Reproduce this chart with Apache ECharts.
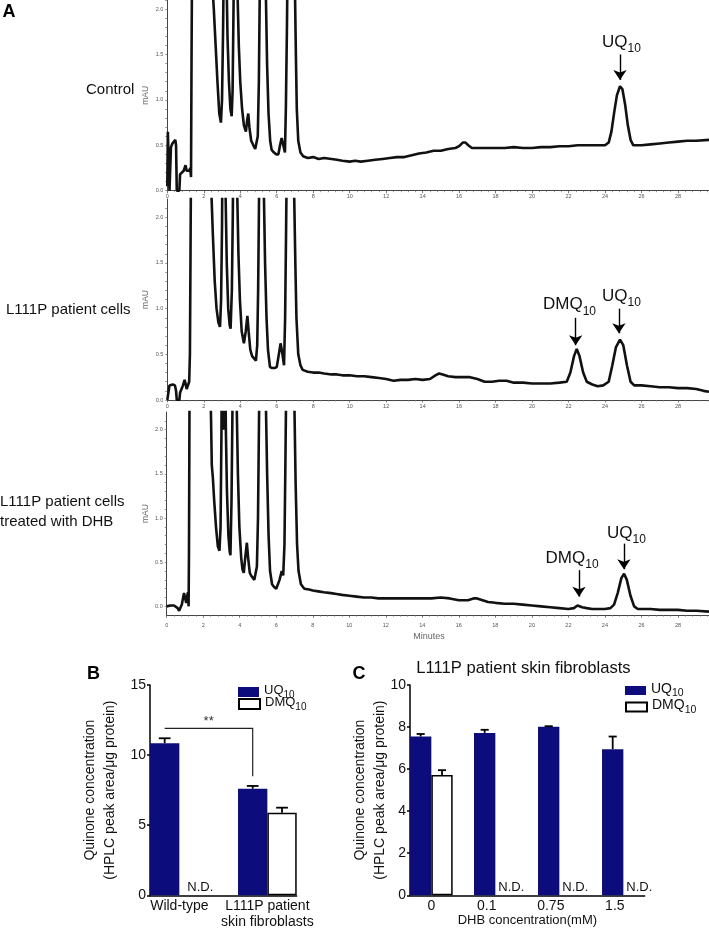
<!DOCTYPE html>
<html>
<head>
<meta charset="utf-8">
<script src="https://cdn.jsdelivr.net/npm/echarts@6.0.0/dist/echarts.min.js"></script>
<style>
html,body{margin:0;padding:0;background:#fff;}
#chart{width:709px;height:930px;}
</style>
</head>
<body>
<div id="chart"></div>
<script>
// ---------------- Panel A: HPLC chromatograms (minutes, mAU) ----------------
const traceControl = [
[0,0.05],[0.03,0.65],[0.08,0.3],[0.12,0.0],[0.16,0.0],[0.2,0.48],[0.28,0.52],[0.36,0.54],[0.44,0.56],[0.48,0.5],[0.52,0.0],[0.6,0.0],[0.66,0.0],[0.7,0.18],[0.8,0.2],[0.9,0.22],[1.0,0.28],[1.06,0.22],[1.12,0.24],[1.2,0.22],[1.26,0.25],[1.3,0.15],[1.33,1.5],[1.36,2.6],[1.42,3],
[2.4,3],[2.49,2.2],[2.55,2.0],[2.65,1.6],[2.75,1.2],[2.85,0.85],[2.94,0.75],[3.0,1.0],[3.06,1.8],[3.1,2.6],[3.15,3],[3.22,3],[3.26,2.2],[3.3,1.7],[3.38,1.2],[3.46,0.9],[3.53,0.82],[3.58,1.1],[3.63,2.0],[3.67,2.8],[3.75,3],[3.82,2.6],[3.86,2.1],[3.92,1.6],[4.0,1.2],[4.1,0.9],[4.2,0.72],[4.31,0.65],[4.38,0.78],[4.44,0.85],[4.5,0.7],[4.6,0.55],[4.72,0.5],[4.82,0.46],[4.9,0.45],[4.96,0.6],[5.02,1.2],[5.06,2.0],[5.1,2.8],[5.3,3],[5.38,2.6],[5.41,2.1],[5.47,1.4],[5.55,0.85],[5.64,0.55],[5.72,0.45],[5.85,0.42],[5.98,0.4],[6.09,0.4],[6.18,0.5],[6.27,0.58],[6.36,0.5],[6.45,0.42],[6.5,0.9],[6.56,1.8],[6.6,2.6],[6.7,3],[6.95,3],[7.0,2.2],[7.05,1.5],[7.1,0.9],[7.18,0.55],[7.3,0.42],[7.45,0.38],[7.7,0.36],[8.0,0.37],[8.3,0.35],[8.6,0.36],[9.0,0.35],[9.3,0.34],[9.6,0.33],[10.0,0.32],[10.3,0.33],[10.6,0.32],[11.0,0.33],[11.4,0.34],[11.8,0.35],[12.2,0.36],[12.6,0.37],[13.0,0.37],[13.4,0.39],[13.8,0.41],[14.2,0.42],[14.6,0.44],[15.0,0.44],[15.4,0.46],[15.8,0.47],[16.0,0.49],[16.2,0.53],[16.35,0.53],[16.5,0.5],[16.7,0.47],[17.0,0.47],[17.5,0.47],[18.0,0.47],[18.5,0.47],[19.0,0.48],[19.5,0.47],[20.0,0.47],[20.5,0.48],[21.0,0.48],[21.5,0.49],[22.0,0.49],[22.5,0.5],[23.0,0.5],[23.5,0.5],[24.0,0.5],[24.2,0.53],[24.35,0.65],[24.5,0.86],[24.65,1.05],[24.82,1.15],[24.95,1.12],[25.1,0.95],[25.25,0.72],[25.4,0.56],[25.55,0.5],[25.8,0.5],[26.0,0.5],[26.5,0.51],[27.0,0.52],[27.5,0.53],[28.0,0.54],[28.5,0.55],[29.0,0.55],[29.7,0.56]
];
const traceL111P = [
[0,0.0],[0.08,0.02],[0.12,0.16],[0.2,0.17],[0.3,0.17],[0.42,0.16],[0.48,0.1],[0.52,0.0],[0.6,0.0],[0.66,0.0],[0.7,0.08],[0.78,0.12],[0.86,0.16],[0.95,0.22],[1.0,0.18],[1.06,0.12],[1.14,0.12],[1.2,0.2],[1.24,0.5],[1.27,1.5],[1.3,2.6],[1.35,3],
[2.35,3],[2.43,2.2],[2.5,1.8],[2.6,1.3],[2.7,1.0],[2.8,0.85],[2.89,0.8],[2.95,1.1],[3.0,1.9],[3.02,2.6],[3.08,3],[3.16,3],[3.2,2.2],[3.26,1.5],[3.34,1.0],[3.42,0.82],[3.47,0.78],[3.54,1.2],[3.59,2.0],[3.62,2.7],[3.7,3],[3.8,3],[3.84,2.2],[3.9,1.6],[3.98,1.1],[4.08,0.75],[4.2,0.62],[4.3,0.75],[4.39,0.92],[4.46,0.75],[4.55,0.55],[4.65,0.48],[4.75,0.46],[4.86,0.43],[4.93,0.6],[4.98,1.2],[5.02,2.0],[5.05,2.7],[5.12,3],[5.25,3],[5.3,2.2],[5.36,1.5],[5.44,0.9],[5.52,0.55],[5.63,0.36],[5.75,0.35],[5.88,0.35],[6.0,0.36],[6.1,0.48],[6.21,0.62],[6.3,0.52],[6.4,0.38],[6.46,0.9],[6.51,1.8],[6.55,2.6],[6.62,3],[6.9,3],[6.96,2.2],[7.02,1.5],[7.08,0.9],[7.18,0.5],[7.3,0.38],[7.42,0.33],[7.7,0.31],[8.0,0.3],[8.3,0.3],[8.6,0.29],[9.0,0.28],[9.3,0.28],[9.6,0.27],[10.0,0.27],[10.4,0.26],[10.8,0.26],[11.2,0.25],[11.6,0.24],[12.0,0.23],[12.4,0.21],[12.8,0.22],[13.2,0.22],[13.6,0.23],[14.0,0.22],[14.4,0.23],[14.7,0.27],[14.9,0.29],[15.1,0.28],[15.4,0.26],[15.8,0.25],[16.2,0.25],[16.6,0.25],[17.0,0.23],[17.4,0.2],[17.8,0.2],[18.2,0.21],[18.6,0.21],[19.0,0.19],[19.5,0.19],[20.0,0.18],[20.5,0.18],[21.0,0.18],[21.5,0.19],[21.9,0.2],[22.1,0.3],[22.3,0.48],[22.45,0.56],[22.6,0.48],[22.8,0.3],[23.0,0.2],[23.3,0.17],[23.6,0.15],[23.9,0.16],[24.2,0.2],[24.4,0.38],[24.6,0.58],[24.82,0.66],[25.0,0.6],[25.2,0.38],[25.4,0.2],[25.6,0.16],[26.0,0.16],[26.5,0.15],[27.0,0.14],[27.5,0.14],[28.0,0.13],[28.5,0.13],[29.0,0.12],[29.4,0.1],[29.7,0.09]
];
const traceDHB = [
[0,0.0],[0.1,0.02],[0.2,0.01],[0.3,0.02],[0.4,0.01],[0.5,0.0],[0.6,-0.02],[0.68,-0.05],[0.73,-0.06],[0.78,-0.03],[0.83,0.02],[0.9,0.1],[0.95,0.15],[1.0,0.1],[1.07,0.04],[1.12,0.12],[1.17,0.16],[1.2,0.0],[1.22,0.6],[1.24,1.8],[1.26,3],
[2.35,3],[2.43,2.1],[2.47,1.6],[2.53,1.45],[2.6,1.2],[2.7,0.9],[2.8,0.68],[2.89,0.63],[2.95,0.9],[3.0,2.0],[3.02,3],[3.1,3],[3.13,2.0],[3.17,2.8],[3.2,3],[3.24,2.0],[3.3,1.3],[3.38,0.8],[3.45,0.62],[3.49,0.58],[3.55,1.2],[3.6,2.2],[3.63,3],[3.8,3],[3.84,2.2],[3.9,1.5],[3.98,0.9],[4.08,0.55],[4.15,0.42],[4.22,0.38],[4.3,0.55],[4.39,0.72],[4.46,0.55],[4.55,0.38],[4.62,0.35],[4.72,0.33],[4.8,0.3],[4.86,0.29],[4.94,0.45],[5.0,1.0],[5.04,1.8],[5.08,2.6],[5.12,3],[5.38,3],[5.44,2.2],[5.5,1.5],[5.58,0.8],[5.66,0.4],[5.77,0.25],[5.88,0.22],[6.0,0.2],[6.08,0.19],[6.18,0.3],[6.3,0.4],[6.38,0.35],[6.45,0.7],[6.5,1.6],[6.55,2.6],[6.6,3],[6.95,3],[7.0,2.2],[7.06,1.4],[7.14,0.7],[7.22,0.4],[7.35,0.25],[7.54,0.2],[7.8,0.19],[8.0,0.18],[8.3,0.17],[8.6,0.16],[9.0,0.15],[9.3,0.14],[9.6,0.13],[10.0,0.12],[10.4,0.11],[10.8,0.1],[11.2,0.1],[11.6,0.09],[12.0,0.09],[12.5,0.09],[13.0,0.09],[13.5,0.09],[14.0,0.09],[14.5,0.09],[15.0,0.1],[15.5,0.09],[16.0,0.07],[16.5,0.07],[16.8,0.09],[17.0,0.09],[17.3,0.07],[17.6,0.05],[18.0,0.04],[18.5,0.03],[19.0,0.03],[19.5,0.02],[20.0,0.01],[20.5,0.0],[21.0,-0.01],[21.5,-0.02],[22.0,-0.03],[22.3,-0.02],[22.5,0.01],[22.6,0.02],[22.75,-0.01],[23.0,-0.02],[23.3,-0.03],[23.6,-0.03],[24.0,-0.03],[24.3,-0.02],[24.5,0.02],[24.7,0.15],[24.9,0.32],[25.05,0.37],[25.2,0.3],[25.4,0.12],[25.6,0.0],[25.8,-0.03],[26.0,-0.03],[26.5,-0.03],[27.0,-0.04],[27.5,-0.04],[28.0,-0.04],[28.5,-0.05],[29.0,-0.05],[29.7,-0.06]
];
const chromNames = ['Control', 'L111P patient cells', 'L111P patient cells\ntreated with DHB'];
const chromYTickLabels = [0, 0.5, 1.0, 1.5, 2.0];
// peak annotations: arrow from/to (mAU) and label centre, in data units
const peaksControl = [{name:'UQ10', t:24.82, from:1.50, to:1.22, labelT:24.9, labelV:1.61}];
const peaksL111P = [{name:'DMQ10', t:22.39, from:0.90, to:0.60, labelT:22.05, labelV:1.02},
                    {name:'UQ10',  t:24.76, from:1.00, to:0.73, labelT:24.9,  labelV:1.11}];
const peaksDHB = [{name:'DMQ10', t:22.58, from:0.41, to:0.11, labelT:22.2,  labelV:0.52},
                  {name:'UQ10',  t:25.04, from:0.71, to:0.42, labelT:25.18, labelV:0.80}];

// ---------------- Panel B ----------------
const bCategories = ['Wild-type', 'L111P patient\nskin fibroblasts'];
const bUQ10 = [10.85, 7.6];
const bUQ10Err = [0.35, 0.2];
const bDMQ10 = [null, 5.89];
const bDMQ10Err = [null, 0.36];
const bSignificance = [{from:0, to:1, text:'**', level:11.9, drop:8.5}];

// ---------------- Panel C ----------------
const cTitle = 'L111P patient skin fibroblasts';
const cCategories = ['0', '0.1', '0.75', '1.5'];
const cUQ10 = [7.55, 7.72, 8.01, 6.95];
const cUQ10Err = [0.12, 0.15, 0.03, 0.6];
const cDMQ10 = [5.72, null, null, null];
const cDMQ10Err = [0.23, null, null, null];
const cXName = 'DHB concentration(mM)';

// ---------------- helpers ----------------
const FONT = "'Liberation Sans', Arial, Helvetica, sans-serif";
const NAVY = '#0c0c7c';
function subFmt(name) { const m = String(name).match(/^(.*?)(\d+)$/); return m ? '{a|' + m[1] + '}{s|' + m[2] + '}' : name; }
function subRich(fs, sfs, pad) {
  return { a: {fontSize: fs, fontFamily: FONT, color: '#111', verticalAlign: 'bottom', padding: [0, 0, pad, 0]},
           s: {fontSize: sfs, fontFamily: FONT, color: '#111', verticalAlign: 'bottom'} };
}

const chromPanels = [
  {trace: traceControl, peaks: peaksControl, grid: {left: 167.3, top: 0, width: 541.7, height: 190.7}, ymin: 0, ymax: 2.1, xMargin: 3},
  {trace: traceL111P, peaks: peaksL111P, grid: {left: 167.3, top: 199, width: 541.7, height: 201}, ymin: 0, ymax: 2.2, xMargin: 3},
  {trace: traceDHB, peaks: peaksDHB, grid: {left: 166.7, top: 412, width: 542.3, height: 203.2}, ymin: -0.1, ymax: 2.2, xMargin: 7}
];

const grids = [], xAxes = [], yAxes = [], series = [];
chromPanels.forEach((p, i) => {
  grids.push(Object.assign({containLabel: false, outerBoundsMode: 'none'}, p.grid));
  xAxes.push({
    type: 'value', gridIndex: i, min: 0, max: 29.7, interval: 2,
    axisLine: {show: true, onZero: false, lineStyle: {color: '#444', width: 1}},
    axisTick: {show: true, length: 2.5, lineStyle: {color: '#555', width: 0.8}},
    minorTick: {show: true, splitNumber: 5, length: 1.5, lineStyle: {color: '#777', width: 0.7}},
    axisLabel: {fontSize: 5.5, color: '#555', margin: p.xMargin, showMaxLabel: false, showMinLabel: true},
    splitLine: {show: false}
  });
  const minorTicks = [];
  for (let k = 0; k <= 21; k++) { const v = k / 10; if (v <= p.ymax) minorTicks.push(v); }
  yAxes.push({
    type: 'value', gridIndex: i, min: p.ymin, max: p.ymax,
    name: 'mAU', nameLocation: 'middle', nameGap: 17, nameMoveOverlap: false,
    nameTextStyle: {fontSize: 8.5, color: '#666', fontFamily: FONT},
    axisLine: {show: true, onZero: false, lineStyle: {color: '#444', width: 1}},
    axisTick: {show: true, length: 2, customValues: minorTicks, lineStyle: {color: '#666', width: 0.7}},
    axisLabel: {fontSize: 5.5, color: '#555', margin: 4, customValues: chromYTickLabels, formatter: v => Number(v).toFixed(1)},
    splitLine: {show: false}
  });
  series.push({
    type: 'line', xAxisIndex: i, yAxisIndex: i, data: p.trace,
    showSymbol: false, symbol: 'none', silent: true, clip: true,
    lineStyle: {color: '#111', width: 2.6},
    markLine: {
      silent: true, symbol: ['none', 'arrow'], symbolSize: 10,
      lineStyle: {color: '#000', width: 1.4, type: 'solid'},
      itemStyle: {color: '#000'},
      label: {show: false}, emphasis: {disabled: true},
      data: p.peaks.map(k => [{coord: [k.t, k.from]}, {coord: [k.t, k.to]}])
    },
    markPoint: {
      silent: true, symbol: 'rect', symbolSize: 1, itemStyle: {color: 'rgba(0,0,0,0)'},
      label: {show: true, position: 'inside', formatter: q => subFmt(q.name), rich: subRich(17, 12, 4)},
      data: p.peaks.map(k => ({name: k.name, coord: [k.labelT, k.labelV]}))
    }
  });
});

// ----- bar panels -----
function barPanel(gi, gridDef, cats, uq, uqErr, dmq, dmqErr, labelCentreFn, ndOffset, capFrac) {
  const n = cats.length;
  const units = 3 * n - 1;
  const unitPx = gridDef.width / units;
  grids.push(Object.assign({containLabel: false, outerBoundsMode: 'none'}, gridDef));
  const uqPos = i => 3 * i + 0.5, dmqPos = i => 3 * i + 1.5;
  const labelPos = cats.map((c, i) => labelCentreFn(i));
  xAxes.push({
    type: 'value', gridIndex: gi, min: 0, max: units,
    axisLine: {show: true, onZero: false, lineStyle: {color: '#000', width: 1.5}},
    axisTick: {show: false}, splitLine: {show: false},
    axisLabel: {customValues: labelPos, fontSize: 14, color: '#111', margin: 3, lineHeight: 16, fontFamily: FONT,
      formatter: v => { const k = labelPos.findIndex(x => Math.abs(x - v) < 1e-6); return k >= 0 ? cats[k] : ''; }}
  });
  series.push({
    name: 'UQ10', type: 'bar', xAxisIndex: gi, yAxisIndex: gi, barWidth: unitPx, barGap: '-100%',
    itemStyle: {color: NAVY}, silent: true,
    data: uq.map((v, i) => [uqPos(i), v])
  });
  series.push({
    name: 'DMQ10', type: 'bar', xAxisIndex: gi, yAxisIndex: gi, barWidth: unitPx, barGap: '-100%',
    itemStyle: {color: '#ffffff', borderColor: '#000', borderWidth: 1.5}, silent: true,
    data: dmq.map((v, i) => [dmqPos(i), v])
  });
  const errData = [];
  uq.forEach((v, i) => { if (v != null) errData.push([uqPos(i), v, uqErr[i]]); });
  dmq.forEach((v, i) => { if (v != null) errData.push([dmqPos(i), v, dmqErr[i]]); });
  const capHalf = unitPx * capFrac;
  series.push({
    type: 'custom', xAxisIndex: gi, yAxisIndex: gi, silent: true, data: errData, z: 3,
    renderItem: (params, api) => {
      const x = api.value(0), v = api.value(1), e = api.value(2);
      const p0 = api.coord([x, v]), p1 = api.coord([x, v + e]);
      const st = {stroke: '#000', lineWidth: 1.8};
      return {type: 'group', children: [
        {type: 'line', shape: {x1: p0[0], y1: p0[1], x2: p1[0], y2: p1[1]}, style: st},
        {type: 'line', shape: {x1: p1[0] - capHalf, y1: p1[1], x2: p1[0] + capHalf, y2: p1[1]}, style: st}
      ]};
    }
  });
  const ndData = [];
  dmq.forEach((v, i) => { if (v == null) ndData.push([3 * i + 1, 0]); });
  series.push({
    type: 'custom', xAxisIndex: gi, yAxisIndex: gi, silent: true, data: ndData, z: 3,
    renderItem: (params, api) => {
      const p = api.coord([api.value(0), api.value(1)]);
      return {type: 'text', x: p[0] + ndOffset, y: p[1] - 1.5,
        style: {text: 'N.D.', font: '13px ' + FONT, fill: '#111', align: 'left', verticalAlign: 'bottom'}};
    }
  });
  return {uqPos, dmqPos, unitPx};
}

const bInfo = barPanel(3, {left: 150, top: 685, width: 146.7, height: 210.3}, bCategories, bUQ10, bUQ10Err, bDMQ10, bDMQ10Err,
  i => 3 * i + 1, 8, 0.2);
yAxes.push({
  type: 'value', gridIndex: 3, min: 0, max: 15, interval: 5,
  name: 'Quinone concentration\n(HPLC peak area/\u03bcg protein)', nameLocation: 'middle', nameGap: 30, nameMoveOverlap: false,
  nameTextStyle: {fontSize: 14, color: '#111', lineHeight: 20, fontFamily: FONT},
  axisLine: {show: true, lineStyle: {color: '#000', width: 1.5}},
  axisTick: {show: true, length: 3, lineStyle: {color: '#000', width: 1.5}},
  axisLabel: {fontSize: 14, color: '#111', margin: 4, fontFamily: FONT},
  splitLine: {show: false}
});
series.push({
  type: 'custom', xAxisIndex: 3, yAxisIndex: 3, silent: true, z: 3,
  data: bSignificance.map((s, k) => [k]),
  renderItem: (params, api) => {
    const s = bSignificance[params.dataIndex];
    const a = api.coord([bInfo.uqPos(s.from), s.level]);
    const b = api.coord([bInfo.uqPos(s.to), s.level]);
    const d = api.coord([bInfo.uqPos(s.to), s.drop]);
    const st = {stroke: '#222', lineWidth: 1.2, fill: null};
    return {type: 'group', children: [
      {type: 'polyline', shape: {points: [a, b, d]}, style: st},
      {type: 'text', x: (a[0] + b[0]) / 2, y: a[1] - 1, style: {text: s.text, font: '13px ' + FONT, fill: '#333', align: 'center', verticalAlign: 'bottom'}}
    ]};
  }
});

const cInfo = barPanel(4, {left: 410, top: 685, width: 234.7, height: 210.3}, cCategories, cUQ10, cUQ10Err, cDMQ10, cDMQ10Err,
  i => (cDMQ10[i] != null ? 3 * i + 1 : 3 * i + 0.6), 3, 0.19);
xAxes[4].name = cXName; xAxes[4].nameLocation = 'middle'; xAxes[4].nameGap = 19;
xAxes[4].nameTextStyle = {fontSize: 13, color: '#111', fontFamily: FONT};
xAxes[4].nameMoveOverlap = false;
yAxes.push({
  type: 'value', gridIndex: 4, min: 0, max: 10, interval: 2,
  name: 'Quinone concentration\n(HPLC peak area/\u03bcg protein)', nameLocation: 'middle', nameGap: 20, nameMoveOverlap: false,
  nameTextStyle: {fontSize: 14, color: '#111', lineHeight: 20, fontFamily: FONT},
  axisLine: {show: true, lineStyle: {color: '#000', width: 1.5}},
  axisTick: {show: true, length: 3, lineStyle: {color: '#000', width: 1.5}},
  axisLabel: {fontSize: 14, color: '#111', margin: 4, fontFamily: FONT},
  splitLine: {show: false}
});

function legendItem(name, left, top, iw, ih, fs, sfs) {
  return {
    data: [{name: name, icon: 'rect'}], left: left, top: top, orient: 'vertical', padding: 0,
    itemWidth: iw, itemHeight: ih, selectedMode: false,
    formatter: subFmt,
    textStyle: {fontSize: fs, color: '#111', fontFamily: FONT, rich: subRich(fs, sfs, 3)}
  };
}

const graphics = [
  {type: 'text', x: 9, y: 12.5, style: {text: 'A', font: 'bold 18px ' + FONT, fill: '#000', align: 'center', verticalAlign: 'middle'}},
  {type: 'text', x: 93.5, y: 674, style: {text: 'B', font: 'bold 18px ' + FONT, fill: '#000', align: 'center', verticalAlign: 'middle'}},
  {type: 'text', x: 359, y: 674, style: {text: 'C', font: 'bold 18px ' + FONT, fill: '#000', align: 'center', verticalAlign: 'middle'}},
  {type: 'text', x: 86, y: 90, style: {text: chromNames[0], font: '15px ' + FONT, fill: '#111', align: 'left', verticalAlign: 'middle'}},
  {type: 'text', x: 6, y: 310, style: {text: chromNames[1], font: '15px ' + FONT, fill: '#111', align: 'left', verticalAlign: 'middle'}},
  {type: 'text', x: 0, y: 512, style: {text: chromNames[2], font: '15px ' + FONT, lineHeight: 20, fill: '#111', align: 'left', verticalAlign: 'middle'}},
  {type: 'text', x: 429, y: 637, style: {text: 'Minutes', font: '9px ' + FONT, fill: '#666', align: 'center', verticalAlign: 'middle'}},
  {type: 'text', x: 523.5, y: 668, style: {text: cTitle, font: '16.6px ' + FONT, fill: '#111', align: 'center', verticalAlign: 'middle'}}
];

const option = {
  animation: false,
  textStyle: {fontFamily: FONT},
  grid: grids, xAxis: xAxes, yAxis: yAxes, series: series,
  legend: [
    legendItem('UQ10', 238, 684, 21, 10, 13, 10),
    legendItem('DMQ10', 238, 696, 21, 10, 13, 10),
    legendItem('UQ10', 625, 682, 21, 9, 14, 10.5),
    legendItem('DMQ10', 625, 698.5, 21, 9, 14, 10.5)
  ],
  graphic: graphics
};

const chart = echarts.init(document.getElementById('chart'), null, {renderer: 'canvas', width: 709, height: 930});
chart.setOption(option);
</script>
</body>
</html>
